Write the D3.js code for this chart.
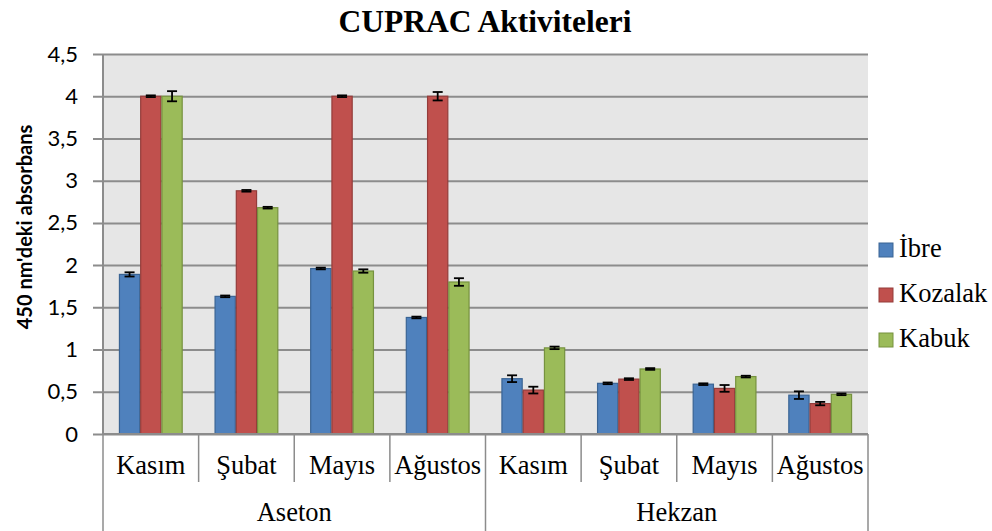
<!DOCTYPE html>
<html>
<head>
<meta charset="utf-8">
<script src="https://cdn.jsdelivr.net/npm/d3@7"></script>
<style>
  body { margin: 0; background: #fff; }
  svg { display: block; }
  .serif { font-family: "Liberation Serif", "Times New Roman", Times, "DejaVu Serif", serif; }
  .sans { font-family: Lato, "Open Sans", "Liberation Sans", sans-serif; }
</style>
</head>
<body>
<svg id="chart" width="992" height="531"></svg>
<script>
// CUPRAC activity, absorbance at 450 nm, per solvent and month
const months = ["Kasım", "Şubat", "Mayıs", "Ağustos", "Kasım", "Şubat", "Mayıs", "Ağustos"];
const solvents = ["Aseton", "Hekzan"];
const seriesNames = ["İbre", "Kozalak", "Kabuk"];

const ibre    = [1.89, 1.63, 1.96, 1.38, 0.655, 0.60, 0.59, 0.46];
const kozalak = [4.00, 2.88, 4.00, 4.00, 0.52, 0.65, 0.54, 0.36];
const kabuk   = [4.00, 2.68, 1.93, 1.80, 1.02, 0.77, 0.68, 0.47];

const ibreErr    = [0.025, 0.01, 0.01, 0.01, 0.04, 0.01, 0.01, 0.045];
const kozalakErr = [0.01, 0.01, 0.01, 0.05, 0.04, 0.01, 0.04, 0.02];
const kabukErr   = [0.06, 0.01, 0.02, 0.045, 0.015, 0.01, 0.01, 0.01];

const yTicks = [0, 0.5, 1, 1.5, 2, 2.5, 3, 3.5, 4, 4.5];
const yTickLabels = ["0", "0,5", "1", "1,5", "2", "2,5", "3", "3,5", "4", "4,5"];

const fills   = ["#4F81BD", "#C0504D", "#9BBB59"];
const strokes = ["#3A6494", "#943C3A", "#76923F"];

const series = [
  { name: seriesNames[0], values: ibre, errs: ibreErr },
  { name: seriesNames[1], values: kozalak, errs: kozalakErr },
  { name: seriesNames[2], values: kabuk, errs: kabukErr }
];

const svg = d3.select("#chart");
const plotL = 103, plotR = 868, plotT = 54, plotB = 434;

const y = d3.scaleLinear().domain([0, 4.5]).range([plotB, plotT]);
const x0 = d3.scaleBand().domain(d3.range(months.length)).range([plotL, plotR]).padding(0);
const x1 = d3.scaleBand().domain(d3.range(series.length)).range([0, x0.bandwidth()])
  .paddingInner(0).paddingOuter(0.75);

// plot background
svg.append("rect").attr("x", plotL).attr("y", plotT)
  .attr("width", plotR - plotL).attr("height", plotB - plotT).attr("fill", "#E6E6E6");

// gridlines + y ticks
const yAxis = d3.axisLeft(y).tickValues(yTicks)
  .tickFormat((d, i) => yTickLabels[i]).tickSize(-(plotR - plotL + 10)).tickPadding(15);
const gy = svg.append("g").attr("transform", `translate(${plotL - 10},0)`).call(yAxis);
gy.attr("font-family", null).attr("font-size", null);
gy.select(".domain").remove();
gy.selectAll(".tick line").attr("stroke", "#8C8C8C").attr("stroke-width", 2);
gy.selectAll(".tick text").attr("class", "sans")
  .style("font-size", "22px").attr("fill", "#000");

// left axis line
svg.append("line").attr("x1", plotL).attr("x2", plotL).attr("y1", plotT).attr("y2", plotB)
  .attr("stroke", "#8C8C8C").attr("stroke-width", 2);

// bars
const groups = svg.append("g").selectAll("g").data(series).join("g");
groups.selectAll("rect").data((s, si) => s.values.map((v, i) => ({ v, i, si })))
  .join("rect")
  .attr("x", d => x0(d.i) + x1(d.si) + 0.5)
  .attr("y", d => y(d.v))
  .attr("width", x1.bandwidth() - 1)
  .attr("height", d => y(0) - y(d.v))
  .attr("fill", d => fills[d.si])
  .attr("stroke", d => strokes[d.si])
  .attr("stroke-width", 1.2);

// error bars
const eb = svg.append("g").attr("stroke", "#000").attr("stroke-width", 1.8);
series.forEach((s, si) => {
  s.values.forEach((v, i) => {
    const cx = x0(i) + x1(si) + x1.bandwidth() / 2;
    const y1 = y(v + s.errs[i]), y2 = y(v - s.errs[i]);
    eb.append("line").attr("x1", cx).attr("x2", cx).attr("y1", y1).attr("y2", y2);
    eb.append("line").attr("x1", cx - 5).attr("x2", cx + 5).attr("y1", y1).attr("y2", y1);
    eb.append("line").attr("x1", cx - 5).attr("x2", cx + 5).attr("y1", y2).attr("y2", y2);
  });
});

// x axis line
svg.append("line").attr("x1", plotL).attr("x2", plotR).attr("y1", plotB).attr("y2", plotB)
  .attr("stroke", "#8C8C8C").attr("stroke-width", 2);

// month separators and labels
const sep = svg.append("g").attr("stroke", "#8C8C8C").attr("stroke-width", 1.5);
d3.range(months.length + 1).forEach(i => {
  const xx = i < months.length ? x0(i) : plotR;
  const full = (i % 4 === 0);
  sep.append("line").attr("x1", xx).attr("x2", xx)
    .attr("y1", plotB).attr("y2", full ? 531 : 482);
});
svg.append("g").selectAll("text").data(months).join("text")
  .attr("class", "serif")
  .attr("x", (d, i) => x0(i) + x0.bandwidth() / 2)
  .attr("y", 474)
  .attr("text-anchor", "middle")
  .style("font-size", "26.5px").text(d => d);

// solvent labels
svg.append("g").selectAll("text").data(solvents).join("text")
  .attr("class", "serif")
  .attr("x", (d, i) => (x0(i * 4) + (i === 0 ? x0(4) : plotR)) / 2)
  .attr("y", 521)
  .attr("text-anchor", "middle")
  .style("font-size", "26.5px").text(d => d);

// title
svg.append("text").attr("class", "serif").attr("x", 485).attr("y", 32).attr("text-anchor", "middle")
  .style("font-weight", "bold").style("font-size", "31.5px").text("CUPRAC Aktiviteleri");

// y axis title
svg.append("text").attr("class", "sans").attr("transform", "translate(32,227) rotate(-90)")
  .attr("text-anchor", "middle")
  .style("font-weight", "bold").style("font-size", "20px").text("450 nm'deki absorbans");

// legend
const lg = svg.append("g").selectAll("g").data(series).join("g")
  .attr("transform", (d, i) => `translate(879,${243 + i * 45})`);
lg.append("rect").attr("width", 14).attr("height", 14)
  .attr("fill", (d, i) => fills[i]).attr("stroke", (d, i) => strokes[i]).attr("stroke-width", 1);
lg.append("text").attr("class", "serif").attr("x", 20).attr("y", 14)
  .style("font-size", "26.5px").text(d => d.name);
</script>
</body>
</html>
